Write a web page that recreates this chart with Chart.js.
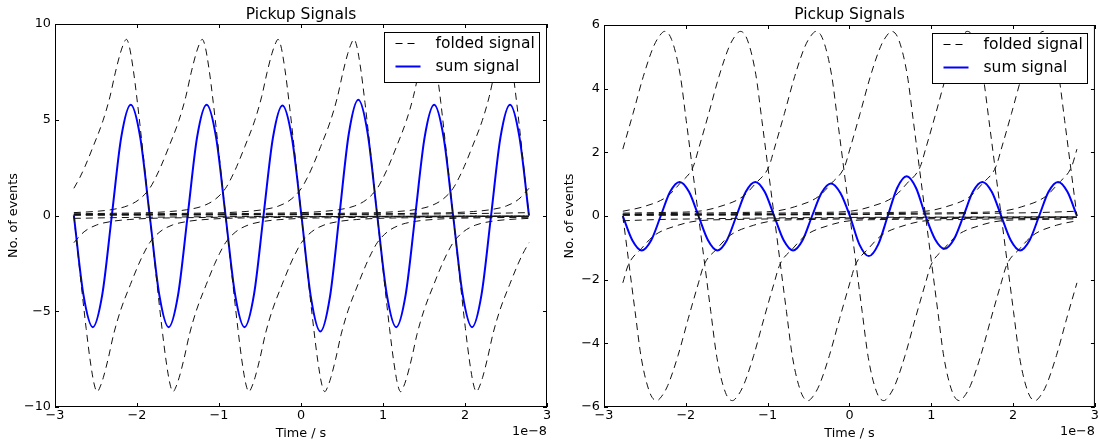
<!DOCTYPE html>
<html>
<head>
<meta charset="utf-8">
<script src="https://cdn.jsdelivr.net/npm/chart.js@4.4.1/dist/chart.umd.min.js"></script>
<style>
  body { margin: 0; background: #fff; width: 1100px; height: 443px; overflow: hidden; position: relative; }
  canvas { position: absolute; top: 0; }
</style>
</head>
<body>
<canvas id="left-plot" width="560" height="443" style="left:0;width:560px;height:443px"></canvas>
<canvas id="right-plot" width="550" height="443" style="left:550px;width:550px;height:443px"></canvas>
<script>
// time axis is in units of 1e-8 s
const timeStart = -2.77;
const timeEnd = 2.78;

// where each bunch passes the pickup (centre of its folded signal)
const bunchCentres = [-4.62, -3.695, -2.77, -1.845, -0.92, 0.005, 0.93, 1.855, 2.78, 3.705, 4.63];

// shape of one folded signal, left pickup (offset from centre, value)
const pulseOffsetsLeft = [-8.325, -7.4, -6.475, -5.55, -4.625, -3.7, -2.775, -2.3, -1.85, -1.6, -1.4, -1.2, -1.05, -0.925, -0.85, -0.79, -0.69, -0.57, -0.485, -0.42, -0.36, -0.32, -0.285, -0.25, -0.2, -0.15, -0.1, -0.05, 0,
  0.05, 0.1, 0.15, 0.2, 0.25, 0.285, 0.32, 0.36, 0.42, 0.485, 0.57, 0.69, 0.79, 0.85, 0.925, 1.05, 1.2, 1.4, 1.6, 1.85, 2.3, 2.775, 3.7, 4.625, 5.55, 6.475, 7.4, 8.325];
const pulseLeft = [0.02, 0.025, 0.03, 0.035, 0.045, 0.06, 0.09, 0.115, 0.15, 0.21, 0.3, 0.5, 0.85, 1.42, 2.0, 2.55, 3.6, 4.95, 6.2, 7.45, 8.45, 8.95, 9.2, 8.85, 7.6, 5.9, 4.0, 2.0, 0,
  -2.0, -4.0, -5.9, -7.6, -8.85, -9.2, -8.95, -8.45, -7.45, -6.2, -4.95, -3.6, -2.55, -2.0, -1.42, -0.85, -0.5, -0.3, -0.21, -0.15, -0.115, -0.09, -0.06, -0.045, -0.035, -0.03, -0.025, -0.02];

// shape of one folded signal, right pickup
const pulseOffsetsRight = [-8.325, -7.4, -6.475, -5.55, -4.625, -3.7, -2.775, -2.3, -1.85, -1.6, -1.31, -1.15, -0.99, -0.925, -0.8, -0.675, -0.55, -0.47, -0.415, -0.33, -0.225, -0.15, -0.08, 0,
  0.08, 0.15, 0.225, 0.33, 0.415, 0.47, 0.55, 0.675, 0.8, 0.925, 0.99, 1.15, 1.31, 1.6, 1.85, 2.3, 2.775, 3.7, 4.625, 5.55, 6.475, 7.4, 8.325];
const pulseRight = [0.02, 0.025, 0.03, 0.035, 0.045, 0.06, 0.09, 0.11, 0.15, 0.29, 0.61, 1.03, 1.55, 2.1, 3.22, 4.38, 5.32, 5.68, 5.8, 5.55, 4.45, 3.0, 1.6, 0,
  -1.6, -3.0, -4.45, -5.55, -5.8, -5.68, -5.32, -4.38, -3.22, -2.1, -1.55, -1.03, -0.61, -0.29, -0.15, -0.11, -0.09, -0.06, -0.045, -0.035, -0.03, -0.025, -0.02];

// sum signal, sampled every eighth of a period
const sumTimes = [-2.770, -2.654, -2.539, -2.423, -2.307, -2.192, -2.076, -1.961,
  -1.845, -1.729, -1.614, -1.498, -1.382, -1.267, -1.151, -1.036,
  -0.920, -0.804, -0.689, -0.573, -0.457, -0.342, -0.226, -0.111,
  0.005, 0.121, 0.236, 0.352, 0.468, 0.583, 0.699, 0.814,
  0.930, 1.046, 1.161, 1.277, 1.393, 1.508, 1.624, 1.739,
  1.855, 1.971, 2.086, 2.202, 2.318, 2.433, 2.549, 2.664, 2.780];
const sumLeft = [0, -4.12, -5.83, -4.12, 0, 4.09, 5.78, 4.09,
  0, -4.12, -5.83, -4.12, 0, 4.09, 5.78, 4.09,
  0, -4.12, -5.83, -4.12, 0, 4.07, 5.75, 4.07,
  0, -4.28, -6.06, -4.28, 0, 4.27, 6.04, 4.27,
  0, -4.12, -5.83, -4.12, 0, 4.09, 5.78, 4.09,
  0, -4.12, -5.83, -4.12, 0, 4.09, 5.78, 4.09, 0];
const sumRight = [0, -0.76, -1.08, -0.76, 0, 0.76, 1.07, 0.76,
  0, -0.76, -1.08, -0.76, 0, 0.76, 1.07, 0.76,
  0, -0.76, -1.08, -0.76, 0, 0.72, 1.02, 0.72,
  0, -0.89, -1.26, -0.89, 0, 0.88, 1.25, 0.88,
  0, -0.73, -1.03, -0.73, 0, 0.76, 1.07, 0.76,
  0, -0.76, -1.08, -0.76, 0, 0.76, 1.07, 0.76, 0];

const xTicks = [-3, -2, -1, 0, 1, 2, 3];
const yTicksLeft = [-10, -5, 0, 5, 10];
const yTicksRight = [-6, -4, -2, 0, 2, 4, 6];

Chart.defaults.font.family = '"DejaVu Sans", sans-serif';
Chart.defaults.color = '#000';

const DASH = [7, 5];
const minus = v => String(v).replace('-', '\u2212');

function foldedDatasets(offsets, values) {
  return bunchCentres.map(c => {
    const pts = offsets
      .map((d, i) => ({ x: c + d, y: values[i] }))
      .filter(p => p.x >= timeStart - 1e-6 && p.x <= timeEnd + 1e-6);
    return {
      data: pts,
      borderColor: '#111',
      borderWidth: 1,
      borderDash: DASH,
      pointRadius: 0,
      showLine: true,
      cubicInterpolationMode: 'monotone'
    };
  });
}

// frame, inward ticks, title, axis labels, offset text and legend
const mplLook = {
  id: 'mplLook',
  afterDraw(chart, args, o) {
    const { ctx, chartArea: a, scales: { x, y } } = chart;
    ctx.save();
    ctx.strokeStyle = '#000';
    ctx.lineWidth = 1;
    ctx.strokeRect(a.left + 0.5, a.top + 0.5, a.right - a.left - 1, a.bottom - a.top - 1);

    ctx.beginPath();
    xTicks.forEach(v => {
      const p = Math.round(x.getPixelForValue(v)) + 0.5;
      ctx.moveTo(p, a.bottom); ctx.lineTo(p, a.bottom - 4);
      ctx.moveTo(p, a.top); ctx.lineTo(p, a.top + 4);
    });
    o.yTicks.forEach(v => {
      const p = Math.round(y.getPixelForValue(v)) + 0.5;
      ctx.moveTo(a.left, p); ctx.lineTo(a.left + 4, p);
      ctx.moveTo(a.right, p); ctx.lineTo(a.right - 4, p);
    });
    ctx.stroke();

    const cx = (a.left + a.right) / 2;
    ctx.fillStyle = '#000';
    ctx.textBaseline = 'alphabetic';
    ctx.textAlign = 'center';
    ctx.font = '15.5px "DejaVu Sans"';
    ctx.fillText('Pickup Signals', cx, 18.5);
    ctx.font = '12.8px "DejaVu Sans"';
    ctx.fillText('Time / s', cx, 437);
    ctx.textAlign = 'right';
    ctx.fillText('1e\u22128', a.right, 435);

    ctx.save();
    ctx.translate(o.yLabelX, (a.top + a.bottom) / 2);
    ctx.rotate(-Math.PI / 2);
    ctx.textAlign = 'center';
    ctx.textBaseline = 'middle';
    ctx.fillText('No. of events', 0, 0);
    ctx.restore();

    // legend
    const w = 155, h = 50;
    const lx = Math.round(a.right - 8 - w) + 0.5, ly = Math.round(a.top + 8) + 0.5;
    ctx.fillStyle = '#fff';
    ctx.fillRect(lx, ly, w, h);
    ctx.strokeRect(lx, ly, w, h);
    ctx.setLineDash(DASH);
    ctx.beginPath();
    ctx.moveTo(lx + 11, ly + 11); ctx.lineTo(lx + 35, ly + 11);
    ctx.stroke();
    ctx.setLineDash([]);
    ctx.strokeStyle = '#0000ff';
    ctx.lineWidth = 2;
    ctx.beginPath();
    ctx.moveTo(lx + 11, ly + 34); ctx.lineTo(lx + 36, ly + 34);
    ctx.stroke();
    ctx.fillStyle = '#000';
    ctx.font = '15.5px "DejaVu Sans"';
    ctx.textAlign = 'left';
    ctx.textBaseline = 'middle';
    ctx.fillText('folded signal', lx + 51, ly + 11);
    ctx.fillText('sum signal', lx + 51, ly + 34);
    ctx.restore();
  }
};

function makePlot(id, offsets, values, sum, yMin, yMax, yStep, yTicks, box) {
  const datasets = foldedDatasets(offsets, values);
  datasets.push({
    data: sumTimes.map((t, i) => ({ x: t, y: sum[i] })),
    borderColor: '#0000ff',
    borderWidth: 2,
    pointRadius: 0,
    showLine: true,
    cubicInterpolationMode: 'monotone'
  });
  return new Chart(document.getElementById(id), {
    type: 'scatter',
    data: { datasets },
    options: {
      responsive: false,
      animation: false,
      devicePixelRatio: 1,
      layout: { padding: { top: box.top, right: box.right, left: 0, bottom: 0 } },
      scales: {
        x: {
          type: 'linear', min: -3, max: 3,
          grid: { display: false, drawTicks: false },
          border: { display: false },
          ticks: { stepSize: 1, autoSkip: false, maxRotation: 0, padding: 1, font: { size: 12.8 }, callback: minus },
          afterFit: s => { s.height = 36; }
        },
        y: {
          type: 'linear', min: yMin, max: yMax,
          grid: { display: false, drawTicks: false },
          border: { display: false },
          ticks: { stepSize: yStep, autoSkip: false, padding: 4, font: { size: 12.8 }, callback: minus },
          afterFit: s => { s.width = box.left; }
        }
      },
      plugins: {
        legend: { display: false },
        tooltip: { enabled: false },
        mplLook: { yTicks, yLabelX: box.yLabelX }
      }
    },
    plugins: [mplLook]
  });
}

makePlot('left-plot', pulseOffsetsLeft, pulseLeft, sumLeft, -10, 10, 5, yTicksLeft,
  { left: 55, right: 13, top: 24, yLabelX: 14 });
makePlot('right-plot', pulseOffsetsRight, pulseRight, sumRight, -6, 6, 2, yTicksRight,
  { left: 54, right: 5, top: 25, yLabelX: 20 });
</script>
</body>
</html>
